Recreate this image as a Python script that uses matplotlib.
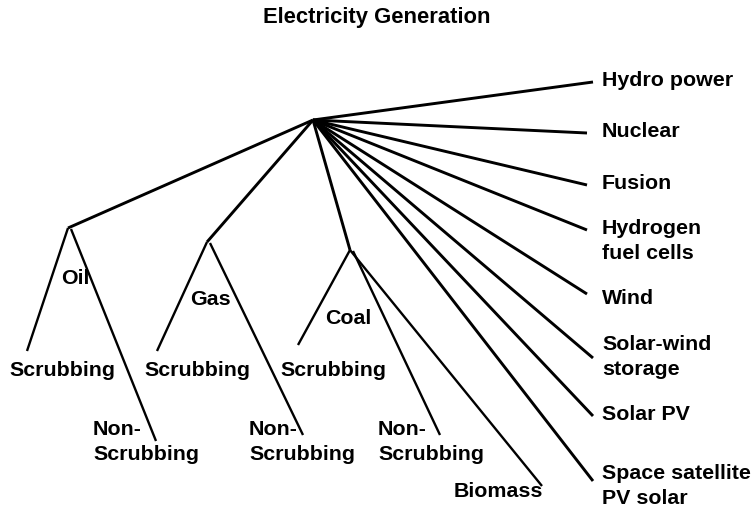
import matplotlib
matplotlib.use("Agg")
import matplotlib.pyplot as plt

plt.rcParams['font.family'] = ['Liberation Sans', 'DejaVu Sans']

title = "Electricity Generation"

# 节点（像素坐标，y 向下）
root = (313, 121)
fossil_names = ["Oil", "Gas", "Coal"]
fossil_nodes = [(68, 229), (207, 243), (350, 251)]
fossil_label_pos = [(75, 279), (210, 300), (348, 319)]
scrub_ends = [(27, 352), (157, 352), (298, 346)]
scrub_label_pos = [(62, 371), (197, 371), (333, 371)]
nonscrub_ends = [(156, 442), (303, 436), (440, 436)]
nonscrub_label_pos = [(93, 442), (249, 442), (378, 442)]

biomass_end = (542, 487)
biomass_label_pos = (454, 492)

# 右侧能源
right_names = ["Hydro power", "Nuclear", "Fusion", "Hydrogen\nfuel cells", "Wind",
               "Solar-wind\nstorage", "Solar PV", "Space satellite\nPV solar"]
right_ends = [(593, 83), (587, 134), (587, 186), (587, 231), (587, 295),
              (593, 359), (593, 417), (593, 482)]
right_label_y = [81, 132, 184, 241, 299, 357, 415, 486]

fig = plt.figure(figsize=(7.51, 5.10), dpi=100)
ax = fig.add_axes([0, 0, 1, 1])
ax.set_xlim(0, 751)
ax.set_ylim(510, 0)
ax.axis('off')

lw = 2.1
fs = 15.4
ls = 1.42
kw = dict(fontsize=fs, fontweight='bold', color='black')

def seg(a, b, w=lw):
    ax.plot([a[0], b[0]], [a[1], b[1]], color='black', lw=w, solid_capstyle='butt')

# 化石燃料分支
for name, node, lp, se, sp, ne, npos in zip(fossil_names, fossil_nodes, fossil_label_pos,
                                              scrub_ends, scrub_label_pos,
                                              nonscrub_ends, nonscrub_label_pos):
    seg(root, node)
    seg(node, se, 1.7)
    seg((node[0] + 3, node[1] + 1), ne, 1.7)
    ax.text(lp[0], lp[1], name, ha='center', va='center', **kw)
    ax.text(sp[0], sp[1], "Scrubbing", ha='center', va='center', **kw)
    ax.text(npos[0], npos[1], "Non-\nScrubbing", ha='left', va='center',
            linespacing=ls, **kw)

# 生物质
seg(fossil_nodes[2], biomass_end, 1.7)
ax.text(biomass_label_pos[0], biomass_label_pos[1], "Biomass", ha='left', va='center', **kw)

# 右侧分支
for name, end, ly in zip(right_names, right_ends, right_label_y):
    seg(root, end)
    ax.text(602, ly, name, ha='left', va='center', linespacing=ls, **kw)

ax.text(377, 18, title, ha='center', va='center', fontsize=15.8, fontweight='bold')

fig.savefig("out.png", dpi=100)
